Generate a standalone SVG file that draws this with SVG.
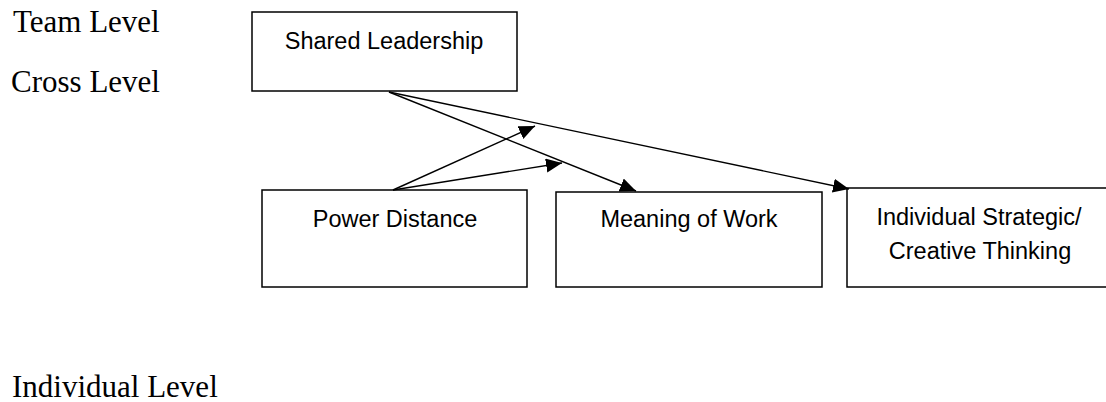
<svg xmlns="http://www.w3.org/2000/svg" width="1106" height="402" viewBox="0 0 1106 402">
<style>
.box{fill:#fff;stroke:#000;stroke-width:1.5}
.lbl{font-family:"Liberation Sans",Arial,sans-serif;font-size:23.5px;fill:#000;text-anchor:middle}
.lvl{font-family:"Liberation Serif","Times New Roman",serif;font-size:31px;fill:#000}
.conn{stroke:#000;stroke-width:1.4;fill:none;marker-end:url(#arr)}
</style>
<defs>
<marker id="arr" markerUnits="userSpaceOnUse" markerWidth="18" markerHeight="16" refX="16" refY="7" orient="auto">
<path d="M0,0 L16,7 L0,14 Z" fill="#000"/>
</marker>
</defs>
<rect width="1106" height="402" fill="#fff"/>
<g id="level-labels">
<text class="lvl" x="13" y="32">Team Level</text>
<text class="lvl" x="11" y="92">Cross Level</text>
<text class="lvl" x="12" y="397">Individual Level</text>
</g>
<g id="shared-leadership">
<rect class="box" x="252" y="12" width="265" height="79"/>
<text class="lbl" x="384" y="49">Shared Leadership</text>
</g>
<g id="power-distance">
<rect class="box" x="262" y="190" width="265" height="97"/>
<text class="lbl" x="395" y="227">Power Distance</text>
</g>
<g id="meaning-of-work">
<rect class="box" x="556" y="192" width="266" height="95"/>
<text class="lbl" x="689" y="227">Meaning of Work</text>
</g>
<g id="individual-thinking">
<rect class="box" x="847" y="188" width="266" height="99"/>
<text class="lbl" x="979" y="225">Individual Strategic/</text>
<text class="lbl" x="980" y="259">Creative Thinking</text>
</g>
<g id="connectors">
<line class="conn" x1="389" y1="92" x2="636" y2="191"/>
<line class="conn" x1="389" y1="92" x2="849" y2="189"/>
<line class="conn" x1="393" y1="190" x2="535" y2="126"/>
<line class="conn" x1="393" y1="190" x2="562" y2="163"/>
</g>
</svg>
